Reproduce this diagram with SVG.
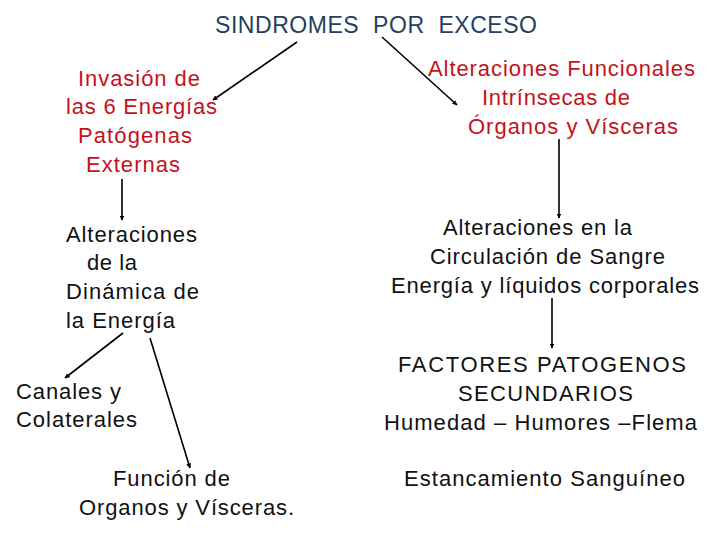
<svg xmlns="http://www.w3.org/2000/svg" width="720" height="540" viewBox="0 0 720 540">
<style>
text{font-family:"Liberation Sans",Arial,sans-serif;font-size:22px;fill:#111}
.t{fill:#243f60;font-size:23px}
.r{fill:#c4121c}
.c line{stroke:#000;stroke-width:1.6;marker-end:url(#ah)}
</style>
<defs><marker id="ah" viewBox="0 0 10 10" refX="9" refY="5" markerWidth="5" markerHeight="5" orient="auto" markerUnits="userSpaceOnUse"><path d="M0,0 L10,5 L0,10 z" fill="#000"/></marker></defs>
<rect width="720" height="540" fill="#fff"/>
<g id="title"><text class="t" x="215" y="33" textLength="322" lengthAdjust="spacing" xml:space="preserve">SINDROMES  POR  EXCESO</text></g>
<g id="invasion">
<text class="r" x="78" y="86" textLength="122" lengthAdjust="spacing">Invasión de</text>
<text class="r" x="66" y="114" textLength="151" lengthAdjust="spacing">las 6 Energías</text>
<text class="r" x="78" y="143" textLength="114" lengthAdjust="spacing">Patógenas</text>
<text class="r" x="86" y="172" textLength="94" lengthAdjust="spacing">Externas</text>
</g>
<g id="dinamica">
<text x="66" y="242" textLength="131" lengthAdjust="spacing">Alteraciones</text>
<text x="87" y="270" textLength="50" lengthAdjust="spacing">de la</text>
<text x="66" y="299" textLength="133" lengthAdjust="spacing">Dinámica de</text>
<text x="66" y="328" textLength="109" lengthAdjust="spacing">la Energía</text>
</g>
<g id="funcionales">
<text class="r" x="428" y="76" textLength="267" lengthAdjust="spacing">Alteraciones Funcionales</text>
<text class="r" x="482" y="105" textLength="148" lengthAdjust="spacing">Intrínsecas de</text>
<text class="r" x="468" y="134" textLength="210" lengthAdjust="spacing">Órganos y Vísceras</text>
</g>
<g id="circulacion">
<text x="443" y="235" textLength="189" lengthAdjust="spacing">Alteraciones en la</text>
<text x="430" y="264" textLength="235" lengthAdjust="spacing">Circulación de Sangre</text>
<text x="391" y="293" textLength="308" lengthAdjust="spacing">Energía y líquidos corporales</text>
</g>
<g id="factores">
<text x="398" y="372" textLength="288" lengthAdjust="spacing">FACTORES PATOGENOS</text>
<text x="458" y="401" textLength="175" lengthAdjust="spacing">SECUNDARIOS</text>
<text x="384" y="430" textLength="313" lengthAdjust="spacing">Humedad – Humores –Flema</text>
</g>
<g id="estancamiento"><text x="404" y="486" textLength="281" lengthAdjust="spacing">Estancamiento Sanguíneo</text></g>
<g id="canales">
<text x="16" y="399" textLength="105" lengthAdjust="spacing">Canales y</text>
<text x="16" y="427" textLength="121" lengthAdjust="spacing">Colaterales</text>
</g>
<g id="funcion">
<text x="113" y="486" textLength="117" lengthAdjust="spacing">Función de</text>
<text x="79" y="515" textLength="215" lengthAdjust="spacing">Organos y Vísceras.</text>
</g>
<g id="connectors" class="c">
<line x1="297" y1="42" x2="213" y2="100"/>
<line x1="382" y1="37" x2="457" y2="105"/>
<line x1="122" y1="179" x2="122" y2="220"/>
<line x1="559" y1="139" x2="559" y2="218"/>
<line x1="552" y1="298" x2="552" y2="348"/>
<line x1="123" y1="333" x2="65" y2="378"/>
<line x1="150" y1="338" x2="190" y2="468"/>
</g>
</svg>
